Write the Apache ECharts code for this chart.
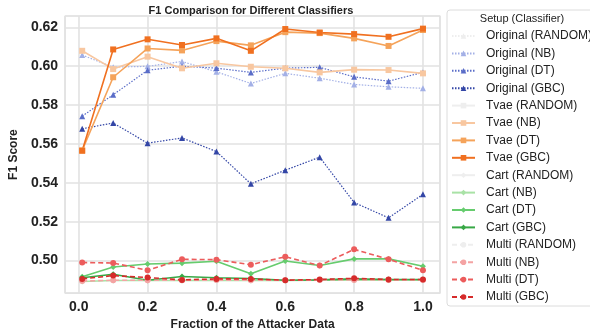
<!DOCTYPE html>
<html>
<head>
<meta charset="utf-8">
<script src="https://cdn.jsdelivr.net/npm/echarts@6/dist/echarts.min.js"></script>
<style>html,body{margin:0;padding:0;background:#fff}#c{width:590px;height:336px}</style>
</head>
<body>
<div id="c"></div>
<script>
const fractions = [0.01, 0.1, 0.2, 0.3, 0.4, 0.5, 0.6, 0.7, 0.8, 0.9, 1.0];
const xTicks = [0.0, 0.2, 0.4, 0.6, 0.8, 1.0];
const yTicks = [0.50, 0.52, 0.54, 0.56, 0.58, 0.60, 0.62];

const originalRandom = [];
const originalNB  = [0.6057, 0.5995, 0.5999, 0.6024, 0.5971, 0.5911, 0.5963, 0.5938, 0.5906, 0.5894, 0.5886];
const originalDT  = [0.5743, 0.5853, 0.5979, 0.6000, 0.5990, 0.5968, 0.5990, 0.5994, 0.5945, 0.5923, 0.5968];
const originalGBC = [0.5678, 0.5708, 0.5604, 0.5631, 0.5561, 0.5395, 0.5465, 0.5532, 0.5299, 0.5220, 0.5341];

const tvaeRandom = [];
const tvaeNB  = [0.6079, 0.5985, 0.6049, 0.5989, 0.6015, 0.5997, 0.5989, 0.5968, 0.5982, 0.5980, 0.5963];
const tvaeDT  = [0.5567, 0.5943, 0.6091, 0.6081, 0.6129, 0.6107, 0.6175, 0.6170, 0.6143, 0.6104, 0.6186];
const tvaeGBC = [0.5565, 0.6086, 0.6138, 0.6109, 0.6143, 0.6079, 0.6191, 0.6173, 0.6165, 0.6151, 0.6193];

const cartRandom = [];
const cartNB  = [0.4893, 0.4898, 0.4898, 0.4898, 0.4899, 0.4898, 0.4898, 0.4899, 0.4899, 0.4899, 0.4899];
const cartDT  = [0.4917, 0.4967, 0.4983, 0.4987, 0.4997, 0.4933, 0.4998, 0.4975, 0.5009, 0.5009, 0.4971];
const cartGBC = [0.4912, 0.4930, 0.4899, 0.4918, 0.4912, 0.4908, 0.4899, 0.4901, 0.4906, 0.4903, 0.4903];

const multiRandom = [];
const multiNB  = [0.4895, 0.4899, 0.4899, 0.4899, 0.4900, 0.4899, 0.4899, 0.4900, 0.4900, 0.4900, 0.4900];
const multiDT  = [0.4990, 0.4988, 0.4950, 0.5007, 0.5005, 0.4979, 0.5020, 0.4975, 0.5058, 0.5007, 0.4950];
const multiGBC = [0.4906, 0.4923, 0.4913, 0.4901, 0.4906, 0.4906, 0.4899, 0.4903, 0.4909, 0.4903, 0.4903];

const setups = [
  {name:'Original', dash:[1.5,1.5], symbol:'triangle', size:6, width:1.2, colors:['#eeeeee','#a3b0e6','#5a6dc8','#3346a6'], data:[originalRandom, originalNB, originalDT, originalGBC]},
  {name:'Tvae', dash:'solid', symbol:'rect', size:6, width:1.6, colors:['#eeeeee','#f8c7a0','#f5a35a','#f07020'], data:[tvaeRandom, tvaeNB, tvaeDT, tvaeGBC]},
  {name:'Cart', dash:'solid', symbol:'diamond', size:6, width:1.6, colors:['#eeeeee','#a9e2a6','#66cc6e','#38a846'], data:[cartRandom, cartNB, cartDT, cartGBC]},
  {name:'Multi', dash:[5,3], symbol:'circle', size:6, width:1.6, colors:['#eeeeee','#f4a3a3','#ec5c5c','#d62b2b'], data:[multiRandom, multiNB, multiDT, multiGBC]}
];
const classifiers = ['RANDOM','NB','DT','GBC'];

const series = [];
setups.forEach(s => {
  classifiers.forEach((c, i) => {
    series.push({
      name: s.name + ' (' + c + ')',
      type: 'line',
      data: s.data[i].map((v, k) => [fractions[k], v]),
      symbol: s.symbol,
      symbolSize: s.size,
      showSymbol: true,
      color: s.colors[i],
      lineStyle: {width: s.width, type: s.dash, color: s.colors[i]},
      itemStyle: {color: s.colors[i]},
      emphasis: {disabled: true},
      animation: false
    });
  });
});

const chart = echarts.init(document.getElementById('c'), null, {renderer: 'canvas'});
chart.setOption({
  backgroundColor: '#ffffff',
  animation: false,
  title: {
    text: 'F1 Comparison for Different Classifiers',
    left: 246, top: 0, textAlign: 'center',
    textStyle: {fontFamily: 'Liberation Sans', fontSize: 11, fontWeight: 'bold', color: '#222'}
  },
  grid: {left: 52, right: 150, top: 16, bottom: 37, show: true, borderColor: '#dcdcdc', borderWidth: 1.2, containLabel: false},
  xAxis: {
    type: 'value', min: -0.0395, max: 1.0495, minInterval: 0.2, maxInterval: 0.2,
    name: 'Fraction of the Attacker Data', nameLocation: 'middle', nameGap: 22,
    nameTextStyle: {fontFamily: 'Liberation Sans', fontSize: 12, fontWeight: 'bold', color: '#222'},
    axisLine: {show: false}, axisTick: {show: false},
    axisLabel: {fontFamily: 'Liberation Sans', fontSize: 14, fontWeight: 'bold', color: '#222', margin: 7,
      showMinLabel: false, showMaxLabel: false,
      formatter: v => xTicks.some(t => Math.abs(t - v) < 1e-6) ? v.toFixed(1) : ''},
    splitLine: {show: true, lineStyle: {color: '#e2e2e2', width: 1.6}}
  },
  yAxis: {
    type: 'value', min: 0.4833, max: 0.6258, minInterval: 0.02, maxInterval: 0.02,
    name: 'F1 Score', nameLocation: 'middle', nameGap: 36, nameRotate: 90,
    nameTextStyle: {fontFamily: 'Liberation Sans', fontSize: 12, fontWeight: 'bold', color: '#222'},
    axisLine: {show: false}, axisTick: {show: false},
    axisLabel: {fontFamily: 'Liberation Sans', fontSize: 14, fontWeight: 'bold', color: '#222', margin: 7,
      showMinLabel: false, showMaxLabel: false,
      formatter: v => yTicks.some(t => Math.abs(t - v) < 1e-6) ? v.toFixed(2) : ''},
    splitLine: {show: true, lineStyle: {color: '#e2e2e2', width: 1.6}}
  },
  graphic: [
    {type: 'rect', shape: {x: 447, y: 10, width: 160, height: 296, r: 3},
     style: {fill: '#ffffff', stroke: '#dcdcdc', lineWidth: 1}, z: 0},
    {type: 'text', x: 522, y: 19, style: {text: 'Setup (Classifier)', fontFamily: 'Liberation Sans', fontSize: 11, fill: '#222', align: 'center', verticalAlign: 'middle', textAlign: 'center', textVerticalAlign: 'middle'}, z: 1}
  ],
  legend: {
    orient: 'vertical', left: 451, top: 30, itemWidth: 23, itemHeight: 7, itemGap: 5.4,
    padding: 0,
    textStyle: {fontFamily: 'Liberation Sans', fontSize: 12, color: '#222', padding: [0,0,0,6]},
    data: series.map(s => s.name),
    selectedMode: false, z: 5
  },
  series: series
});
</script>
</body>
</html>
